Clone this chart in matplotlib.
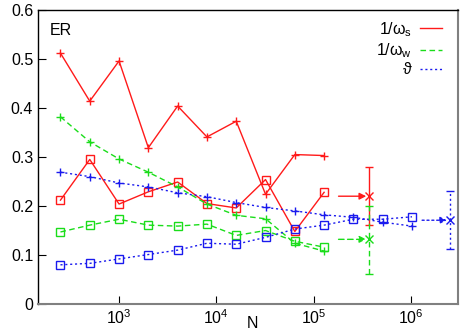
import numpy as np
import matplotlib
matplotlib.use("Agg")
import matplotlib.pyplot as plt

plt.rcParams['font.family'] = ['Liberation Sans', 'DejaVu Sans']
plt.rcParams['mathtext.fontset'] = 'custom'
plt.rcParams['mathtext.rm'] = 'Liberation Sans'
plt.rcParams['mathtext.it'] = 'Liberation Sans:italic'

# system sizes
N = [250, 500, 1000, 2000, 4000, 8000, 16000, 32000, 64000, 128000]
N_theta_sq = N + [256000, 512000, 1024000]

# 1/omega_s
ws_plus = [0.512, 0.414, 0.496, 0.319, 0.404, 0.341, 0.373, 0.224, 0.305, 0.303]
ws_sq = [0.212, 0.295, 0.204, 0.229, 0.249, 0.205, 0.196, 0.254, 0.148, 0.228]
# 1/omega_w
ww_plus = [0.382, 0.331, 0.296, 0.269, 0.239, 0.204, 0.181, 0.174, 0.124, 0.108]
ww_sq = [0.147, 0.161, 0.173, 0.161, 0.159, 0.163, 0.140, 0.150, 0.128, 0.116]
# theta
th_plus = [0.269, 0.260, 0.247, 0.239, 0.227, 0.219, 0.207, 0.197, 0.190, 0.182,
           0.177, 0.167, 0.159]
th_sq = [0.080, 0.083, 0.092, 0.101, 0.110, 0.124, 0.122, 0.136, 0.153, 0.161,
         0.173, 0.173, 0.178]

# extrapolated values (x position, value, error bar low/high, arrow start)
ext_N_sw = 3.7e5
ws_ext, ws_lo, ws_hi = 0.220, 0.161, 0.280
ww_ext, ww_lo, ww_hi = 0.132, 0.061, 0.200
arrow_from_sw = 1.8e5
ext_N_th = 2.5e6
th_ext, th_lo, th_hi = 0.171, 0.112, 0.231
arrow_from_th = 1.3e6

red, green, blue = '#ff1a1a', '#1add1a', '#1a1aee'
ls_w = (0, (4, 2.5))
ls_t = (0, (1.5, 2))

fig = plt.figure(figsize=(4.71, 3.36), dpi=100)
ax = fig.add_axes([0.0807, 0.0952, 0.8917, 0.875])

lw = 1.0
ms = 6
ax.plot(N, ws_plus, color=red, lw=lw, marker='+', ms=ms, label='1/ω$_\\mathrm{s}$')
ax.plot(N, ws_sq, color=red, lw=lw, marker='s', ms=ms, mfc='none')
ax.plot(N, ww_plus, color=green, lw=lw, ls=ls_w, marker='+', ms=ms, label='1/ω$_\\mathrm{w}$')
ax.plot(N, ww_sq, color=green, lw=lw, ls=ls_w, marker='s', ms=ms, mfc='none')
ax.plot(N_theta_sq, th_plus, color=blue, lw=lw, ls=ls_t, marker='+', ms=ms, label='ϑ')
ax.plot(N_theta_sq, th_sq, color=blue, lw=lw, ls=ls_t, marker='s', ms=ms, mfc='none')

# extrapolations with error bars and arrows
for x, y, lo, hi, x0, c, ls in [
        (ext_N_sw, ws_ext, ws_lo, ws_hi, arrow_from_sw, red, '-'),
        (ext_N_sw, ww_ext, ww_lo, ww_hi, arrow_from_sw, green, ls_w),
        (ext_N_th, th_ext, th_lo, th_hi, arrow_from_th, blue, ls_t)]:
    eb = ax.errorbar([x], [y], yerr=[[y - lo], [hi - y]], color=c, marker='x', ms=6,
                     lw=lw, capsize=3, elinewidth=lw, ls='none')
    eb[2][0].set_linestyle(ls)
    ax.annotate('', xy=(x, y), xytext=(x0, y),
                arrowprops=dict(arrowstyle='-|>', color=c, lw=lw, ls=ls,
                                mutation_scale=10, shrinkA=0, shrinkB=2))

ax.set_xscale('log')
ax.set_xlim(147, 3.04e6)
ax.set_ylim(0, 0.6)
ax.set_yticks([0, 0.1, 0.2, 0.3, 0.4, 0.5, 0.6])
ax.set_yticklabels(['0', '0.1', '0.2', '0.3', '0.4', '0.5', '0.6'])
ax.set_xticks([1e3, 1e4, 1e5, 1e6])
ax.xaxis.set_minor_locator(matplotlib.ticker.NullLocator())
ax.tick_params(direction='in', labelsize=11.5, length=6, top=False, right=False)
ax.tick_params(axis='x', pad=3)
ax.set_xlabel('N', fontsize=11.5)
ax.xaxis.set_label_coords(0.51, -0.065)
ax.xaxis.label.set_va('center')

for s in ['bottom', 'right']:
    ax.spines[s].set_color('#808080')
    ax.spines[s].set_linewidth(1.5)
for s in ['left', 'top']:
    ax.spines[s].set_linewidth(1.0)

ax.text(0.027, 0.955, 'ER', transform=ax.transAxes, fontsize=11.5, va='top')

ax.legend(loc='upper right', bbox_to_anchor=(0.962, 0.966), frameon=False,
          markerfirst=False, fontsize=11.5, handlelength=1.4, labelspacing=0.15,
          borderaxespad=0, borderpad=0, handletextpad=0.5)
leg = ax.get_legend()
for h in leg.legend_handles:
    h.set_marker('')

fig.savefig('out.png', dpi=100)
